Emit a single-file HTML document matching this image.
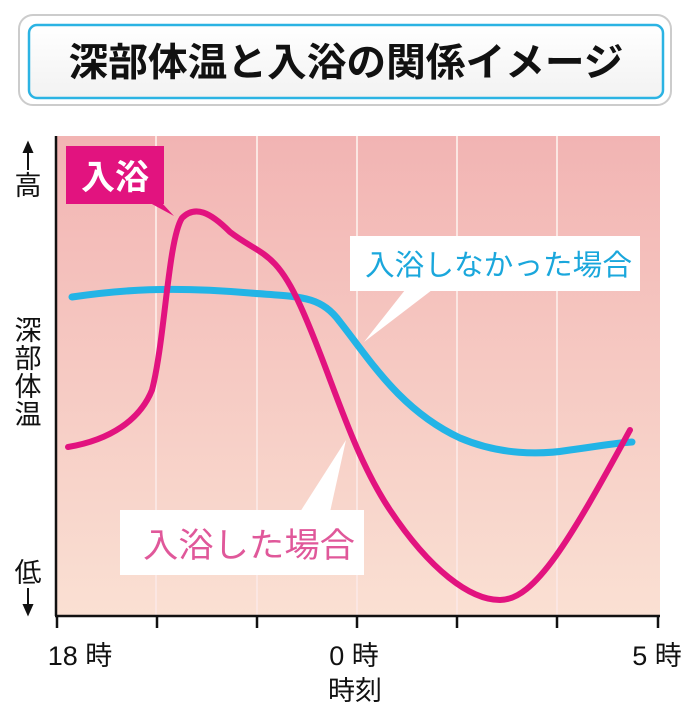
<!DOCTYPE html>
<html><head><meta charset="utf-8"><style>
body{margin:0;width:690px;height:705px;background:#fff;overflow:hidden;font-family:"Liberation Sans","Noto Sans CJK JP",sans-serif}
</style></head><body>
<svg width="690" height="705" viewBox="0 0 690 705" xmlns="http://www.w3.org/2000/svg" font-family="Liberation Sans, Noto Sans CJK JP, sans-serif">
<defs>
<linearGradient id="bg" x1="0" y1="0" x2="0" y2="1"><stop offset="0" stop-color="#f2b4b3"/><stop offset="1" stop-color="#fae0d3"/></linearGradient>
<linearGradient id="tb" x1="0" y1="0" x2="0" y2="1"><stop offset="0" stop-color="#ffffff"/><stop offset="1" stop-color="#f2f2f2"/></linearGradient>
</defs>
<rect x="19" y="15" width="652" height="90" rx="14" fill="#fff" stroke="#ccc" stroke-width="2"/>
<rect x="29" y="25" width="634" height="73" rx="8" fill="url(#tb)" stroke="#2bb3e3" stroke-width="2.5"/>
<text x="346" y="76" text-anchor="middle" font-size="39" font-weight="bold" fill="#111" textLength="555" lengthAdjust="spacingAndGlyphs">深部体温と入浴の関係イメージ</text>
<rect x="56" y="136" width="604" height="480" fill="url(#bg)"/>
<g stroke="#fbe6e2" stroke-width="2">
<line x1="156" y1="136" x2="156" y2="615"/><line x1="257" y1="136" x2="257" y2="615"/><line x1="357" y1="136" x2="357" y2="615"/><line x1="457" y1="136" x2="457" y2="615"/><line x1="557" y1="136" x2="557" y2="615"/>
</g>
<g stroke="#111" stroke-width="2.5" fill="none">
<line x1="56" y1="136" x2="56" y2="616"/><line x1="55" y1="616" x2="660" y2="616"/>
<line x1="57" y1="616" x2="57" y2="628"/><line x1="157" y1="616" x2="157" y2="628"/><line x1="257" y1="616" x2="257" y2="628"/><line x1="357" y1="616" x2="357" y2="628"/><line x1="457" y1="616" x2="457" y2="628"/><line x1="557" y1="616" x2="557" y2="628"/><line x1="658" y1="616" x2="658" y2="628"/>
</g>
<path d="M72,297 C120,290 170,286 250,293 C300,297 320,295 340,322 C370,360 400,410 460,438 C500,455 540,455 570,450 C600,446 615,443 632,442" fill="none" stroke="#23b4e6" stroke-width="7" stroke-linecap="round"/>
<path d="M68,447 C110,440 140,420 152,390 C165,340 168,240 182,218 C195,205 210,212 230,232 C260,255 275,250 300,305 C330,370 350,450 390,510 C430,570 470,600 500,600 C535,600 570,540 630,430" fill="none" stroke="#e2137f" stroke-width="6" stroke-linecap="round"/>
<rect x="66" y="146" width="98" height="58" fill="#e2137f"/>
<polygon points="150,203 162,203 174,216" fill="#e2137f"/>
<text x="115" y="189" text-anchor="middle" font-size="34" font-weight="bold" fill="#fff">入浴</text>
<rect x="350" y="236" width="290" height="55" fill="#fff"/>
<polygon points="405,290 432,290 364,342" fill="#fff"/>
<text x="365" y="275" font-size="29" fill="#1aa7dc" textLength="267" lengthAdjust="spacingAndGlyphs">入浴しなかった場合</text>
<rect x="120" y="510" width="244" height="65" fill="#fff"/>
<polygon points="300,512 330,512 346,440" fill="#fff"/>
<text x="143" y="557" font-size="34" fill="#e0589a" textLength="212" lengthAdjust="spacingAndGlyphs">入浴した場合</text>
<g font-size="27" fill="#111" text-anchor="middle">
<text x="28" y="195">高</text>
<text x="28" y="340">深</text><text x="28" y="368">部</text><text x="28" y="396">体</text><text x="28" y="424">温</text>
<text x="28" y="582">低</text>
<text x="80" y="665">18 時</text>
<text x="354" y="665">0 時</text>
<text x="657" y="665">5 時</text>
<text x="355" y="700">時刻</text>
</g>
<g stroke="#111" stroke-width="2" fill="#111">
<line x1="28" y1="150" x2="28" y2="170"/><polygon points="24,152 32,152 28,143"/>
<line x1="28" y1="588" x2="28" y2="608"/><polygon points="24,605 32,605 28,614"/>
</g>
</svg>
</body></html>
